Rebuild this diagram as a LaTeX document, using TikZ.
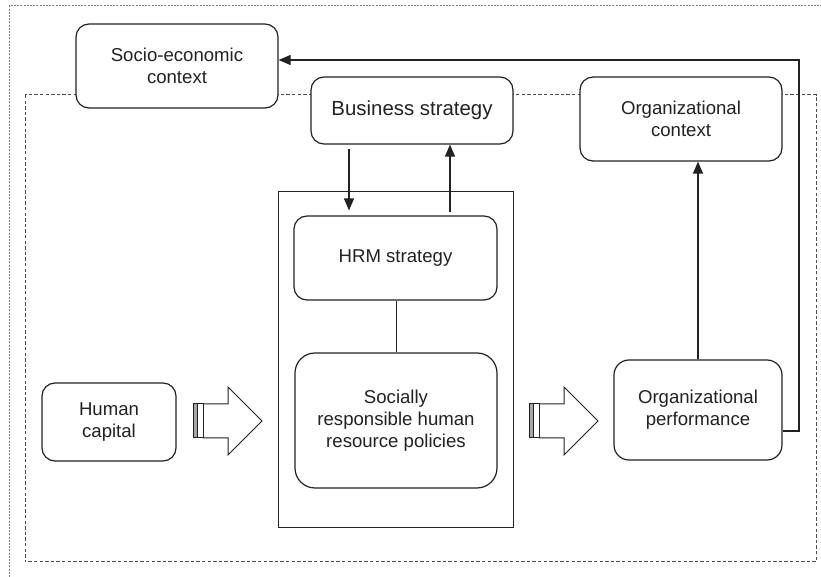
\documentclass[tikz,border=0pt]{standalone}
\usepackage{fontspec}
\setmainfont{Liberation Sans}
\usetikzlibrary{arrows.meta}
\definecolor{ink}{HTML}{222222}
\begin{document}
\begin{tikzpicture}[x=0.5pt,y=-0.5pt,
  box/.style={draw=ink, line width=0.6pt, fill=white, rounded corners=6.5pt, align=center,
    text=ink, inner sep=0pt, font=\fontsize{9.3}{11}\selectfont},
  arr/.style={draw=ink, line width=0.6pt, -{Triangle[length=6pt,width=5pt]}},
  conn/.style={draw=ink, line width=0.5pt},
  fat/.style={draw=ink, line width=0.5pt, fill=white, line join=miter}]
\useasboundingbox (0,0) rectangle (821,577);
% outer dotted frame (cut off at right and bottom)
\draw[gray, line width=0.5pt, dash pattern=on 1pt off 0.6pt] (9,577) -- (9,6) -- (821,6);
% inner dashed boundary
\draw[ink!80, line width=0.5pt, dash pattern=on 1.7pt off 1.1pt] (25,95) rectangle (816,562);
% container of HRM
\node[draw=ink, line width=0.5pt, minimum width=117.5pt, minimum height=168pt, inner sep=0pt] (cont) at (395.5,360) {};
% boxes
\node[box, minimum width=101pt, minimum height=42pt] (socio) at (177,66) {Socio-economic\\context};
\node[box, minimum width=101pt, minimum height=33.5pt, font=\fontsize{10.2}{12}\selectfont] (biz) at (412,110.5) {Business strategy};
\node[box, minimum width=101pt, minimum height=42pt] (orgctx) at (681,119) {Organizational\\context};
\node[box, minimum width=101.5pt, minimum height=42pt] (hrm) at (395.5,258) {HRM strategy};
\node[box, minimum width=101pt, minimum height=67.5pt, rounded corners=10pt] (srhr) at (396,420.5) {Socially\\responsible human\\resource policies};
\node[box, minimum width=67pt, minimum height=39pt] (human) at (109,422) {Human\\capital};
\node[box, minimum width=84pt, minimum height=50pt, rounded corners=7.5pt] (perf) at (698,410) {Organizational\\performance};
% connectors
\coordinate (c1) at (799,431);
\coordinate (c2) at (799,60);
\draw[arr] (perf.east |- c1) -- (c1) -- (c2) -- (c2 -| socio.east);
\coordinate (dn) at (349,0);
\coordinate (up) at (450,0);
\draw[arr, shorten <=2pt, shorten >=2.5pt] (biz.south -| dn) -- (hrm.north -| dn);
\draw[arr, shorten <=1.5pt] (hrm.north -| up) -- (biz.south -| up);
\draw[conn] (hrm.south -| srhr.north) -- (srhr.north);
\coordinate (pv) at (698,0);
\draw[arr] (perf.north -| pv) -- (orgctx.south -| pv);
% fat arrows
\foreach \xo in {193,529}{
  \begin{scope}[shift={(\xo,0)}]
    \draw[fat] (10,404) -- (35,404) -- (35,387) -- (69,421) -- (35,455) -- (35,438) -- (10,438);
    \draw[draw=ink, line width=0.5pt, fill=gray!70] (0,404) rectangle (4,438);
    \draw[draw=ink, line width=0.5pt, fill=white] (4,404) rectangle (10,438);
  \end{scope}
}
\end{tikzpicture}
\end{document}
